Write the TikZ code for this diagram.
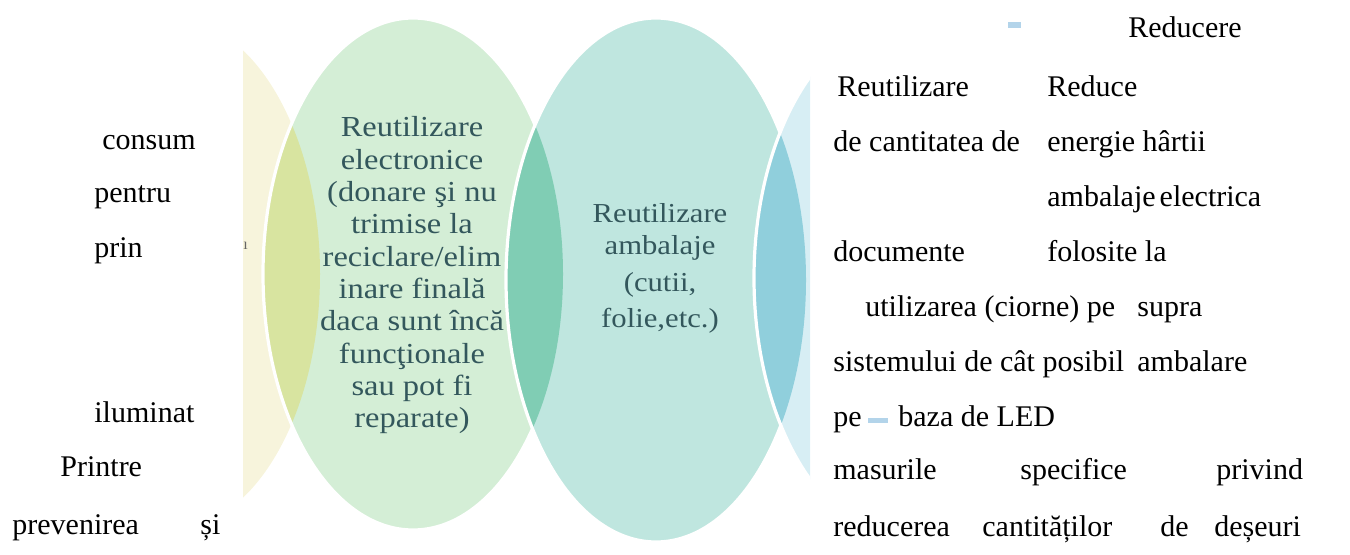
\documentclass[tikz,border=0pt]{standalone}
\usepackage{fontspec}
\setmainfont{Liberation Serif}
\newfontfamily\vennfont[FakeStretch=1.12]{Liberation Serif}
\usetikzlibrary{positioning}
\definecolor{vennyellow}{HTML}{F7F4DC}
\definecolor{venngreen}{HTML}{D4EED6}
\definecolor{vennteal}{HTML}{BFE6DF}
\definecolor{vennblue}{HTML}{D7EEF4}
\definecolor{yellowgreen}{HTML}{D8E4A0}
\definecolor{greenteal}{HTML}{80CDB4}
\definecolor{tealblue}{HTML}{90CFDC}
\definecolor{venntxt}{HTML}{33575C}
\definecolor{scanmark}{HTML}{B3D4EA}

\begin{document}
\begin{tikzpicture}[x=0.5pt,y=-0.5pt,
    word/.style={anchor=base west,inner sep=0pt,font=\fontsize{15pt}{18pt}\selectfont},
    venntext/.style={anchor=base,inner sep=0pt,text=venntxt,font=\vennfont\fontsize{14.5pt}{16pt}\selectfont},
    blob/.style={x radius=75pt,y radius=128pt},
    ring/.style={draw=white,line width=1.6pt}]
  \useasboundingbox (0,0) rectangle (1350,555);

  \coordinate (cy) at (170,274);
  \coordinate (cg) at (413,274);
  \coordinate (ct) at (656,280);
  \coordinate (cb) at (904,278);

  % venn ellipses, cut off at both sides of the scan
  \begin{scope}
    \clip (243,0) rectangle (810,555);
    \fill[vennyellow] (cy) ellipse [blob];
    \fill[venngreen] (cg) ellipse [blob];
    \begin{scope}
      \clip (cy) ellipse [blob];
      \fill[yellowgreen] (cg) ellipse [blob];
    \end{scope}
    \draw[ring] (cg) ellipse [blob];
    \fill[vennteal] (ct) ellipse [blob,y radius=131pt];
    \begin{scope}
      \clip (cg) ellipse [blob];
      \fill[greenteal] (ct) ellipse [blob,y radius=131pt];
    \end{scope}
    \draw[ring] (ct) ellipse [blob,y radius=131pt];
    \fill[vennblue] (cb) ellipse [blob,y radius=129pt];
    \begin{scope}
      \clip (ct) ellipse [blob,y radius=131pt];
      \fill[tealblue] (cb) ellipse [blob,y radius=129pt];
    \end{scope}
    \draw[ring] (cb) ellipse [blob,y radius=129pt];
  \end{scope}

  % text in the ellipses
  \foreach \txt [count=\k from 0] in {Reutilizare, electronice, {(donare şi nu}, trimise la,
      reciclare/elim, inare finală, daca sunt încă, funcţionale, sau pot fi, reparate)}
    \node[venntext] (elec\k) at (412,137+32.3*\k) {\txt};
  \node[venntext,font=\vennfont\fontsize{13.7pt}{16pt}\selectfont] (pack1) at (660,223) {Reutilizare};
  \node[venntext,font=\vennfont\fontsize{13.7pt}{16pt}\selectfont] (pack2) at (660,255) {ambalaje};
  \node[venntext,font=\vennfont\fontsize{13.7pt}{16pt}\selectfont] (pack3) at (660,292) {(cutii,};
  \node[venntext,font=\vennfont\fontsize{13.7pt}{16pt}\selectfont] (pack4) at (660,328) {folie,etc.)};

  % page text, left
  \node[word] (consum) at (102,150) {consum};
  \node[word] (pentru) at (94,203) {pentru};
  \node[word] (prin) at (94,258) {prin};
  \node[word,text=black!60,font=\fontsize{8pt}{9pt}\selectfont] (stray) at (243,250) {ı};
  \node[word] (iluminat) at (94,423) {iluminat};
  \node[word] (printre) at (60,477) {Printre};
  \node[word] (prevenirea) at (12,535) {prevenirea};
  \node[word] (si) at (200,535) {și};

  % page text, right
  \fill[scanmark] (1008,22) rectangle (1021,28);
  \node[word] (reducere) at (1128,38) {Reducere};
  \node[word] (reutilizare) at (837,97) {Reutilizare};
  \node[word] (reduce) at (1047,97) {Reduce};
  \node[word] (cantitatea) at (833,152) {de cantitatea de};
  \node[word] (energie) at (1047,152) {energie hârtii};
  \node[word] (ambalaje) at (1047,207) {ambalaje\hspace{2pt}electrica};
  \node[word] (documente) at (833,262) {documente};
  \node[word] (folosite) at (1047,262) {folosite la};
  \node[word] (utilizarea) at (865,317) {utilizarea (ciorne) pe};
  \node[word] (supra) at (1137,317) {supra};
  \node[word] (sistemului) at (833,372) {sistemului de cât posibil};
  \node[word] (ambalare) at (1137,372) {ambalare};
  \node[word] (pe) at (833,427) {pe};
  \fill[scanmark] (868,418) rectangle (888,423);
  \node[word] (baza) at (898,427) {baza de LED};
  \node[word] (masurile) at (833,480) {masurile};
  \node[word] (specifice) at (1020,480) {specifice};
  \node[word] (privind) at (1216,480) {privind};
  \node[word] (reducerea) at (833,537) {reducerea};
  \node[word] (cantitatilor) at (982,537) {cantităților};
  \node[word] (de) at (1160,537) {de};
  \node[word] (deseuri) at (1214,537) {deșeuri};
\end{tikzpicture}
\end{document}
